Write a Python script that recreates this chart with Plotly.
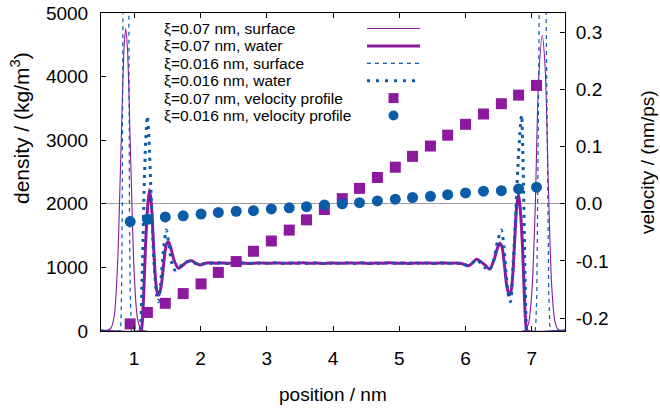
import plotly.graph_objects as go

# ---------------- data ----------------
# xi = 0.07 nm, surface density (None = lies on the bottom axis, hidden under it)
surf07_x = [0.50, 0.55, 0.60, 0.65, 0.70, 0.75, 0.80, 0.85, 0.873, 0.90, 0.95, 1.00, 1.05, 1.10, 1.15, 1.20,
            None,
            6.85, 6.90, 6.95, 7.00, 7.05, 7.10, 7.157, 7.20, 7.25, 7.30, 7.35, 7.40, 7.45, 7.50]
surf07_y = [0, 0, 10, 45, 240, 1050, 2800, 4500, 4750, 4420, 2620, 930, 200, 35, 5, 0,
            None,
            0, 15, 120, 620, 1900, 3900, 4650, 4150, 2250, 700, 140, 20, 2, 0]

# xi = 0.07 nm, water density
wat07_x = [0.50, 1.10, 1.12, 1.145, 1.17, 1.20, 1.23, 1.26, 1.29, 1.32, 1.35, 1.375, 1.41, 1.45, 1.485, 1.517,
           1.55, 1.60, 1.668, 1.73, 1.80, 1.87, 1.93, 1.995, 2.06, 2.15, 2.25, 2.35, 2.45, 2.55, 2.65, 2.75,
           2.85, 2.95, 3.05, 3.15, 3.25, 3.35, 3.45, 3.55, 3.65, 3.75, 3.85, 3.95, 4.05, 4.15, 4.25, 4.35,
           4.45, 4.55, 4.65, 4.75, 4.85, 4.95, 5.05, 5.15, 5.25, 5.35, 5.45, 5.55, 5.65, 5.75, 5.85, 5.95,
           6.035, 6.10, 6.165, 6.23, 6.30, 6.362, 6.43, 6.48, 6.513, 6.545, 6.58, 6.62, 6.655, 6.68, 6.71,
           6.74, 6.77, 6.80, 6.83, 6.86, 6.885, 6.91, 6.93, 7.50]
wat07_y = [0, 0, 100, 600, 1300, 1900, 2220, 2000, 1400, 850, 600, 566, 720, 1100, 1360, 1404,
           1320, 1120, 986, 1030, 1090, 1105, 1065, 1037, 1062, 1072, 1066, 1070, 1064, 1071, 1067, 1062,
           1070, 1068, 1065, 1071, 1064, 1069, 1066, 1072, 1065, 1068, 1063, 1070, 1067, 1064, 1071, 1066,
           1069, 1063, 1070, 1066, 1072, 1065, 1068, 1062, 1070, 1066, 1069, 1064, 1071, 1065, 1068, 1058,
           1022, 1065, 1127, 1090, 1030, 970, 1120, 1300, 1378, 1340, 1100, 720, 566, 600, 850,
           1400, 1950, 2150, 1850, 1300, 600, 100, 0, 0]

# xi = 0.016 nm, surface density
surf016_x = [0.50, 0.79, 0.80, 0.81, 0.82, 0.83, 0.835, 0.845, 0.875, 0.905, 0.915, 0.92, 0.93, 0.94, 0.95, 0.96,
             None,
             7.05, 7.06, 7.075, 7.09, 7.10, 7.11, 7.125, 7.163, 7.20, 7.215, 7.225, 7.24, 7.255, 7.27, 7.28, 7.50]
surf016_y = [0, 0, 100, 600, 1800, 3800, 5000, 9000, 20000, 9000, 5000, 3800, 1800, 600, 100, 0,
             None,
             0, 100, 600, 1800, 3500, 5000, 9000, 20000, 9000, 5000, 3500, 1800, 600, 100, 0, 0]

# xi = 0.016 nm, water density
wat016_x = [0.50, 1.08, 1.10, 1.125, 1.15, 1.175, 1.20, 1.225, 1.25, 1.28, 1.31, 1.34, 1.365, 1.40, 1.44, 1.485,
            1.52, 1.56, 1.61, 1.66, 1.72, 1.80, 1.87, 1.93, 2.00, 2.10, 2.20, 2.30, 2.40, 2.50, 2.60, 2.70,
            2.80, 2.90, 3.00, 3.10, 3.20, 3.30, 3.40, 3.50, 3.60, 3.70, 3.80, 3.90, 4.00, 4.10, 4.20, 4.30,
            4.40, 4.50, 4.60, 4.70, 4.80, 4.90, 5.00, 5.10, 5.20, 5.30, 5.40, 5.50, 5.60, 5.70, 5.80, 5.90,
            5.97, 6.035, 6.10, 6.165, 6.23, 6.30, 6.36, 6.42, 6.48, 6.54, 6.58, 6.62, 6.65, 6.678, 6.72,
            6.76, 6.80, 6.845, 6.87, 6.895, 6.915, 6.93, 7.50]
wat016_y = [0, 0, 150, 1000, 2200, 3000, 3380, 3000, 2300, 1500, 900, 560, 461, 750, 1250, 1588,
            1400, 1100, 960, 970, 1040, 1090, 1090, 1060, 1045, 1068, 1062, 1074, 1060, 1070, 1065, 1072,
            1061, 1069, 1066, 1073, 1060, 1068, 1064, 1071, 1062, 1070, 1066, 1058, 1072, 1064, 1069, 1061,
            1073, 1065, 1068, 1060, 1071, 1066, 1069, 1062, 1072, 1064, 1068, 1061, 1070, 1065, 1067, 1060,
            1055, 1030, 1070, 1120, 1070, 990, 960, 1100, 1400, 1588, 1300, 800, 540, 461, 1100,
            1900, 2800, 3395, 2500, 1000, 150, 0, 0]

# velocity profiles
vel_x = [0.94, 1.20, 1.47, 1.74, 2.01, 2.27, 2.54, 2.80, 3.07, 3.34, 3.60, 3.87,
         4.14, 4.40, 4.67, 4.94, 5.20, 5.47, 5.73, 6.00, 6.27, 6.54, 6.80, 7.07]
vel07 = [-0.210, -0.190, -0.174, -0.157, -0.140, -0.120, -0.101, -0.083, -0.065, -0.046, -0.028, -0.010,
         0.009, 0.027, 0.046, 0.064, 0.083, 0.101, 0.120, 0.139, 0.157, 0.175, 0.190, 0.207]
vel016 = [-0.031, -0.027, -0.023, -0.021, -0.018, -0.015, -0.013, -0.012, -0.009, -0.007, -0.005, -0.002,
          0.000, 0.002, 0.005, 0.008, 0.011, 0.013, 0.016, 0.019, 0.022, 0.023, 0.026, 0.029]

# ticks
x_ticks = [1, 2, 3, 4, 5, 6, 7]
y_ticks = [0, 1000, 2000, 3000, 4000, 5000]
y2_ticks = [-0.2, -0.1, 0.0, 0.1, 0.2, 0.3]
y2_ticktext = ["-0.2", "-0.1", "0.0", "0.1", "0.2", "0.3"]

legend_labels = ["\u03be=0.07 nm, surface", "\u03be=0.07 nm, water", "\u03be=0.016 nm, surface",
                 "\u03be=0.016 nm, water", "\u03be=0.07 nm, velocity profile", "\u03be=0.016 nm, velocity profile"]

# ---------------- styling ----------------
PURPLE = "#8b1a9e"
BLUE = "#0a5ca8"
FONT = "Liberation Sans, Arial, sans-serif"

W, H = 660, 411
# plot area on screen: x 101..565, y 13..331
ML, MT = 101, 13
MR, MB = W - 565, H - 331
PW, PH = W - ML - MR, H - MT - MB

fig = go.Figure()
fig.add_trace(go.Scatter(x=surf07_x, y=surf07_y, mode="lines", line=dict(color=PURPLE, width=1.1, shape="spline", smoothing=0.8),
                         showlegend=False, hoverinfo="skip"))
fig.add_trace(go.Scatter(x=wat07_x, y=wat07_y, mode="lines", line=dict(color=PURPLE, width=3, shape="spline", smoothing=0.7),
                         showlegend=False, hoverinfo="skip"))
fig.add_trace(go.Scatter(x=surf016_x, y=surf016_y, mode="lines", line=dict(color=BLUE, width=1.2, dash="4px,4px"),
                         showlegend=False, hoverinfo="skip"))
fig.add_trace(go.Scatter(x=wat016_x, y=wat016_y, mode="lines", line=dict(color=BLUE, width=3, dash="3px,5px", shape="spline", smoothing=0.7),
                         showlegend=False, hoverinfo="skip"))
fig.add_trace(go.Scatter(x=vel_x, y=vel07, yaxis="y2", mode="markers",
                         marker=dict(symbol="square", size=11, color=PURPLE), showlegend=False, hoverinfo="skip"))
fig.add_trace(go.Scatter(x=vel_x, y=vel016, yaxis="y2", mode="markers",
                         marker=dict(symbol="circle", size=11, color=BLUE), showlegend=False, hoverinfo="skip"))

# y2 range aligned so that 0 coincides with density 2000
y2_span = 0.556
y2_range = [-0.4 * y2_span, 0.6 * y2_span]

axis_common = dict(showline=True, linecolor="black", linewidth=1, ticks="inside", ticklen=5,
                   tickcolor="black", showgrid=False, automargin=False, ticklabeloverflow="allow",
                   tickfont=dict(family=FONT, size=19, color="black"))

fig.update_layout(
    width=W, height=H, margin=dict(l=ML, r=MR, t=MT, b=MB, autoexpand=False),
    paper_bgcolor="white", plot_bgcolor="white",
    showlegend=False,
    xaxis=dict(range=[0.5, 7.5], tickvals=x_ticks, mirror="ticks", ticklabelstandoff=10, zeroline=False, **axis_common),
    yaxis=dict(range=[0, 5000], tickvals=y_ticks, ticklabelstandoff=8, zeroline=False, **axis_common),
    yaxis2=dict(range=y2_range, tickvals=y2_ticks, ticktext=y2_ticktext, overlaying="y", side="right",
                ticklabelstandoff=6, zeroline=True, zerolinecolor="#a0a0a0", zerolinewidth=1, **axis_common),
)

def px_to_paper_x(px):
    return (px - ML) / PW

def px_to_paper_y(py):
    return (H - MB - py) / PH

annotations = []
# axis titles
annotations.append(dict(text="position / nm", x=px_to_paper_x(333), y=px_to_paper_y(394), xref="paper", yref="paper",
                        showarrow=False, xanchor="center", yanchor="middle", font=dict(family=FONT, size=19, color="black")))
annotations.append(dict(text="density / (kg/m<sup>3</sup>)", x=px_to_paper_x(20), y=px_to_paper_y(128), xref="paper", yref="paper",
                        showarrow=False, textangle=-90, xanchor="center", yanchor="middle", font=dict(family=FONT, size=21, color="black")))
annotations.append(dict(text="velocity / (nm/ps)", x=px_to_paper_x(647), y=px_to_paper_y(162), xref="paper", yref="paper",
                        showarrow=False, textangle=-90, xanchor="center", yanchor="middle", font=dict(family=FONT, size=19, color="black")))

# manual key (text left, sample right, like the reference)
row0, row_step = 28.5, 17.4
shapes = []
for i, lab in enumerate(legend_labels):
    ry = row0 + i * row_step
    annotations.append(dict(text=lab, x=px_to_paper_x(162), y=px_to_paper_y(ry), xref="paper", yref="paper",
                            showarrow=False, xanchor="left", yanchor="middle", font=dict(family=FONT, size=15.5, color="black")))

line_styles = [dict(color=PURPLE, width=1.1), dict(color=PURPLE, width=3),
               dict(color=BLUE, width=1.2, dash="4px,4px"), dict(color=BLUE, width=3, dash="3px,6px")]
for i, ls in enumerate(line_styles):
    ry = row0 + i * row_step
    shapes.append(dict(type="line", xref="paper", yref="paper", x0=px_to_paper_x(367), x1=px_to_paper_x(420),
                       y0=px_to_paper_y(ry), y1=px_to_paper_y(ry), line=ls))
half = 5
for i, (kind, col) in enumerate([("rect", PURPLE), ("circle", BLUE)]):
    ry = row0 + (4 + i) * row_step
    shapes.append(dict(type=kind, xref="paper", yref="paper",
                       x0=px_to_paper_x(393.5 - half), x1=px_to_paper_x(393.5 + half),
                       y0=px_to_paper_y(ry + half), y1=px_to_paper_y(ry - half),
                       fillcolor=col, line=dict(width=0)))

fig.update_layout(annotations=annotations, shapes=shapes)
fig.write_html("out.html", config={"displayModeBar": False, "staticPlot": True},
               post_script="document.body.style.margin='0px';")
